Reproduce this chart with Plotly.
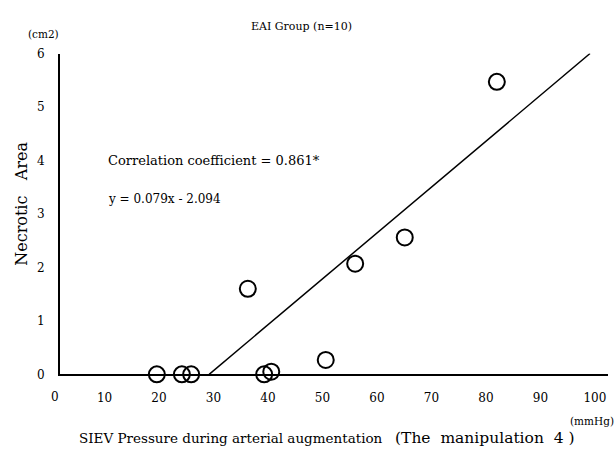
import plotly.graph_objects as go

# Data
pressure = [19.6, 24.2, 25.9, 39.3, 40.6, 50.6, 36.3, 56.0, 65.1, 82.0]   # mmHg
necrotic_area = [0.0, 0.0, 0.0, 0.0, 0.05, 0.27, 1.6, 2.07, 2.56, 5.47]  # cm2
fit_x = [29.2, 99.1]
fit_y = [0.0, 6.0]
x_ticks = [10, 20, 30, 40, 50, 60, 70, 80, 90, 100]
y_ticks = [0, 1, 2, 3, 4, 5, 6]

W, H = 616, 456
FONT = "DejaVu Serif"

fig = go.Figure()
fig.add_trace(go.Scatter(
    x=fit_x, y=fit_y, mode="lines",
    line=dict(color="black", width=1.5), showlegend=False, hoverinfo="skip"))
fig.add_trace(go.Scatter(
    x=pressure, y=necrotic_area, mode="markers",
    marker=dict(symbol="circle-open", size=16, color="black",
                line=dict(color="black", width=2)),
    showlegend=False, cliponaxis=False))

x0_px, x1_px = 60, 608
y_top_px, y_bot_px = 48, 379


def ann(text, x, y, size, xanchor="center", angle=0):
    return dict(text=text, xref="paper", yref="paper",
                x=x / W, y=1 - y / H, xanchor=xanchor, yanchor="middle",
                showarrow=False, textangle=angle,
                font=dict(family=FONT, size=size, color="black"))


fig.update_layout(
    width=W, height=H,
    margin=dict(l=0, r=0, t=0, b=0),
    paper_bgcolor="white", plot_bgcolor="white",
    font=dict(family=FONT, color="black", size=13),
    xaxis=dict(
        domain=[x0_px / W, x1_px / W],
        range=[1.83, 102.4],
        tickvals=x_ticks, ticktext=[str(v) for v in x_ticks],
        showgrid=False, zeroline=False,
        showline=True, linecolor="black", linewidth=2,
        ticks="", ticklabelstandoff=11,
        tickfont=dict(family=FONT, size=12),
    ),
    yaxis=dict(
        domain=[1 - y_bot_px / H, 1 - y_top_px / H],
        range=[0, 6],
        tickvals=y_ticks, ticktext=[str(v) for v in y_ticks],
        showgrid=False, zeroline=False,
        showline=True, linecolor="black", linewidth=2,
        ticks="", ticklabelstandoff=11,
        tickfont=dict(family=FONT, size=12),
    ),
    annotations=[
        ann("EAI Group (n=10)", 301, 20, 11),
        ann("(cm2)", 43, 28, 10.5),
        ann("Necrotic   Area", 22, 203, 16, angle=-90),
        ann("Correlation coefficient = 0.861*", 106, 158, 13, xanchor="left"),
        ann("y = 0.079x - 2.094", 106, 198, 12, xanchor="left"),
        ann("0", 55, 402, 12),
        ann("(mmHg)", 616, 427, 10.5, xanchor="right"),
        ann("SIEV Pressure during arterial augmentation", 77, 445, 13.5, xanchor="left"),
        ann("(The  manipulation  4 )", 393, 445, 15.5, xanchor="left"),
    ],
)

fig.write_html("out.html", config={"displayModeBar": False},
               post_script="document.body.style.margin='0';")
